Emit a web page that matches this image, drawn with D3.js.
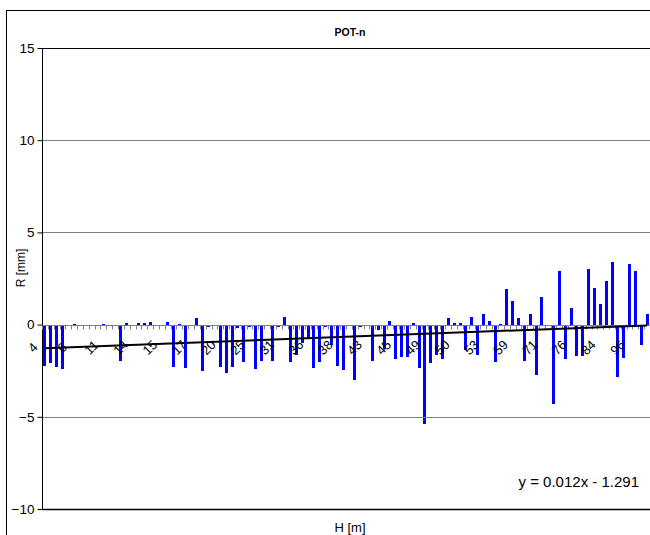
<!DOCTYPE html>
<html>
<head>
<meta charset="utf-8">
<script src="https://cdn.jsdelivr.net/npm/d3@7"></script>
<style>
  html, body { margin: 0; padding: 0; background: #fff; overflow: hidden; }
  svg { display: block; }
  text { font-family: "Liberation Sans", Arial, sans-serif; }
</style>
</head>
<body>
<div id="container"></div>
<script>
var width = 650;
var height = 535;
var margin = {left: 42, right: 0, top: 48, bottom: 26};

// residual R [mm] for each measurement, in order along the x axis
var values = [
  -2.26, -2.1, -2.3, -2.43, 0, 0.05, 0, -0.03, 0, 0,
  0.05, -0.1, 0, -2.0, 0.1, 0, 0.08, 0.09, 0.15, -0.07,
  -0.03, 0.15, -2.32, 0.05, -2.37, -0.07, 0.38, -2.54, -0.15, -0.05,
  -2.32, -2.6, -2.28, -0.18, -2.05, -0.15, -2.43, -1.96, -0.05, -1.96,
  -0.12, 0.43, -2.05, -1.63, -1.0, -0.78, -2.37, -2.05, -0.15, -1.12,
  -2.26, -2.48, -0.1, -2.98, -0.15, -0.09, -2.0, -0.3, -1.3, 0.22,
  -1.87, -1.78, -1.74, 0.1, -2.35, -5.4, -2.1, -1.63, -1.87, 0.38,
  0.1, 0.1, -1.36, 0.43, -1.67, 0.6, 0.22, -2.05, 0.05, 1.92,
  1.3, 0.38, -1.96, 0.6, -2.75, 1.52, -0.05, -4.3, 2.9, -1.85,
  0.89, -1.72, -1.72, 3.0, 1.97, 1.1, 2.36, 3.4, -2.86, -1.83,
  3.3, 2.9, -1.12, 0.58
];
// labels shown on every 5th category
var tickLabels = ["4", "6", "11", "14", "15", "17", "20", "25", "31", "36", "38",
  "43", "45", "49", "50", "53", "59", "71", "76", "84", "96"];
var labelStep = 5;
var yTicks = [-10, -5, 0, 5, 10, 15];
var trend = {slope: 0.012, intercept: -1.291};

var data = values.map(function(v, i) { return {idx: i + 1, value: v}; });

var svg = d3.select('#container').append('svg')
    .attr('width', width).attr('height', height);

// chart area border (cut by the picture edge at right / bottom)
svg.append('rect')
    .attr('x', 6.5).attr('y', 10.5)
    .attr('width', 700).attr('height', 600)
    .attr('fill', 'none').attr('stroke', '#000');

var plotRight = width - margin.right;
var x = d3.scaleBand()
    .domain(data.map(function(d) { return d.idx; }))
    .range([margin.left, plotRight])
    .paddingInner(0.5).paddingOuter(0.25);
var step = (plotRight - margin.left) / data.length;
var xCenter = function(i) { return margin.left + (i - 0.5) * step; };

var y = d3.scaleLinear().domain([-10, 15]).range([509, 48]);
var yZero = Math.round(y(0));

// bars
svg.append('g').attr('class', 'bars')
    .selectAll('rect')
    .data(data)
    .enter().append('rect')
    .attr('x', function(d) { return Math.round(x(d.idx)); })
    .attr('width', Math.round(x.bandwidth()))
    .attr('y', function(d) { return Math.min(yZero, Math.round(y(d.value))); })
    .attr('height', function(d) { return Math.abs(Math.round(y(d.value)) - yZero); })
    .attr('fill', '#0000ff');

// gridlines
svg.append('g').selectAll('line')
    .data(yTicks.filter(function(t) { return t !== 0 && t !== -10 && t !== 15; }))
    .enter().append('line')
    .attr('x1', margin.left).attr('x2', plotRight)
    .attr('y1', function(d) { return Math.round(y(d)) + 0.5; })
    .attr('y2', function(d) { return Math.round(y(d)) + 0.5; })
    .attr('stroke', '#808080');

// plot area frame
svg.append('line')
    .attr('x1', margin.left).attr('x2', plotRight)
    .attr('y1', Math.round(y(15)) + 0.5).attr('y2', Math.round(y(15)) + 0.5)
    .attr('stroke', '#000');
svg.append('line')
    .attr('x1', margin.left).attr('x2', plotRight)
    .attr('y1', Math.round(y(-10)) + 0.5).attr('y2', Math.round(y(-10)) + 0.5)
    .attr('stroke', '#000').attr('stroke-width', 1.5);
svg.append('line')
    .attr('x1', margin.left + 0.5).attr('x2', margin.left + 0.5)
    .attr('y1', Math.round(y(15))).attr('y2', Math.round(y(-10)) + 1)
    .attr('stroke', '#000');

// category axis at zero
var y0 = yZero + 0.5;
svg.append('line')
    .attr('x1', margin.left).attr('x2', plotRight)
    .attr('y1', y0).attr('y2', y0)
    .attr('stroke', '#808080');
svg.append('g').selectAll('line')
    .data(d3.range(data.length + 1))
    .enter().append('line')
    .attr('x1', function(d) { return Math.round(margin.left + d * step) + 0.5; })
    .attr('x2', function(d) { return Math.round(margin.left + d * step) + 0.5; })
    .attr('y1', y0).attr('y2', y0 + 4)
    .attr('stroke', '#808080');

// trendline
var line = d3.line()
    .x(function(d) { return xCenter(d); })
    .y(function(d) { return y(trend.slope * d + trend.intercept); });
svg.append('path')
    .datum([1, data.length])
    .attr('d', line)
    .attr('fill', 'none').attr('stroke', '#000').attr('stroke-width', 2);

// category labels
svg.append('g').selectAll('text')
    .data(tickLabels)
    .enter().append('text')
    .attr('transform', function(d, k) {
        return 'translate(' + (xCenter(1 + k * labelStep) - 12) + ',' + (y0 + 22) + ') rotate(-45)';
    })
    .attr('text-anchor', 'middle')
    .attr('dy', '0.35em')
    .attr('font-size', '13px')
    .attr('fill', '#000')
    .text(function(d) { return d; });

// value axis ticks and labels
var yAxis = svg.append('g')
    .attr('transform', 'translate(' + (margin.left + 0.5) + ',0)')
    .call(d3.axisLeft(y).tickValues(yTicks).tickSize(5).tickSizeOuter(0).tickPadding(3));
yAxis.select('.domain').remove();
yAxis.selectAll('.tick line').attr('stroke', '#000');
yAxis.selectAll('.tick text')
    .attr('font-size', '13.5px')
    .attr('font-family', '"Liberation Sans", Arial, sans-serif')
    .attr('fill', '#000');

// texts
svg.append('text')
    .attr('x', 350).attr('y', 36)
    .attr('text-anchor', 'middle')
    .attr('font-size', '10.5px').attr('font-weight', 'bold')
    .text('POT-n');
svg.append('text')
    .attr('transform', 'translate(25,268) rotate(-90)')
    .attr('text-anchor', 'middle')
    .attr('font-size', '12px')
    .text('R [mm]');
svg.append('text')
    .attr('x', 350).attr('y', 532)
    .attr('text-anchor', 'middle')
    .attr('font-size', '13px')
    .text('H [m]');
svg.append('text')
    .attr('x', 639).attr('y', 487)
    .attr('text-anchor', 'end')
    .attr('font-size', '15px')
    .text('y = 0.012x - 1.291');
</script>
</body>
</html>
